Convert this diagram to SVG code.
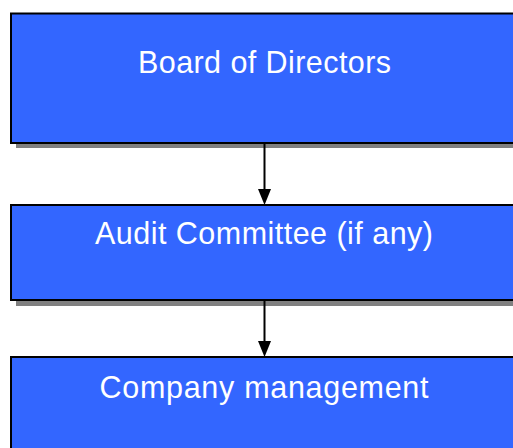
<svg xmlns="http://www.w3.org/2000/svg" width="513" height="448" viewBox="0 0 513 448">
  <style>
    .shadow { fill: #808080; }
    .box { fill: #3366FF; stroke: #000000; stroke-width: 2; }
    .label { font-family: "Liberation Sans", Arial, sans-serif; font-size: 30.5px; fill: #FFFFFF; }
    .conn { stroke: #000000; stroke-width: 2; fill: none; }
    .head { fill: #000000; }
  </style>
  <rect width="513" height="448" fill="#FFFFFF"/>
  <g id="board">
    <rect class="shadow" x="16" y="18.5" width="510" height="129.5"/>
    <rect class="box" x="11" y="13.5" width="510" height="129.5"/>
    <text class="label" x="138" y="73" textLength="253" lengthAdjust="spacing">Board of Directors</text>
  </g>
  <g id="audit">
    <rect class="shadow" x="16" y="210" width="510" height="96"/>
    <rect class="box" x="11" y="205" width="510" height="95"/>
    <text class="label" x="95" y="244" textLength="338" lengthAdjust="spacing">Audit Committee (if any)</text>
  </g>
  <g id="management">
    <rect class="shadow" x="16" y="362" width="510" height="110"/>
    <rect class="box" x="11" y="357" width="510" height="110"/>
    <text class="label" x="99.5" y="398" textLength="329" lengthAdjust="spacing">Company management</text>
  </g>
  <g id="connectors">
    <line class="conn" x1="264.5" y1="144" x2="264.5" y2="190"/>
    <polygon class="head" points="258,189 271,189 264.5,205"/>
    <line class="conn" x1="264.5" y1="301" x2="264.5" y2="342"/>
    <polygon class="head" points="258,341 271,341 264.5,357"/>
  </g>
</svg>
